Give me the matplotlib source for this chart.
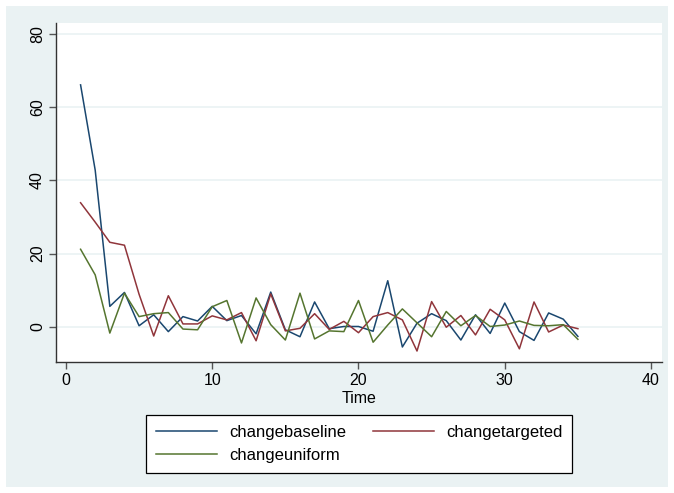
import matplotlib.pyplot as plt
from matplotlib.patches import Rectangle

# time index and the three series
time = list(range(1, 36))
changebaseline = [66.1, 42.8, 5.6, 9.4, 0.3, 3.3, -1.3, 2.8, 1.6, 5.6,
                  1.7, 3.1, -1.9, 9.5, -0.8, -2.7, 6.8, -0.5, 0.1, 0.1,
                  -1.2, 12.6, -5.5, 1.0, 3.6, 1.7, -3.6, 3.3, -1.8, 6.5,
                  -1.3, -3.7, 3.8, 2.1, -2.6]
changetargeted = [33.9, 28.6, 23.1, 22.3, 8.9, -2.5, 8.5, 0.8, 0.8, 3.0,
                  1.9, 3.9, -3.8, 9.0, -1.1, -0.4, 3.6, -0.7, 1.5, -1.6,
                  2.8, 3.9, 1.9, -6.6, 6.9, -0.1, 3.1, -2.2, 4.8, 1.9,
                  -6.0, 6.8, -1.4, 0.5, -0.5]
changeuniform = [21.2, 14.2, -1.7, 9.2, 2.8, 3.6, 3.9, -0.6, -0.8, 5.5,
                 7.2, -4.4, 7.9, 0.6, -3.6, 9.2, -3.3, -1.1, -1.3, 7.2,
                 -4.2, 0.5, 4.9, 1.1, -2.7, 4.2, 0.3, 3.1, 0.1, 0.5,
                 1.6, 0.4, 0.3, 0.6, -3.4]
xticks = [0, 10, 20, 30, 40]
yticks = [0, 20, 40, 60, 80]

bg = '#EAF2F3'
plt.rcParams['font.family'] = ['Liberation Sans', 'DejaVu Sans']

W, H = 674, 493
fig = plt.figure(figsize=(W / 100, H / 100), dpi=100, facecolor='white')
# stata-like light panel behind everything
fig.patches.append(Rectangle((6 / W, 6 / H), 662 / W, 481 / H, transform=fig.transFigure,
                             facecolor=bg, edgecolor='none', zorder=-10))

ax = fig.add_axes([56 / W, 1 - 362 / H, 606 / W, 339 / H])
ax.set_facecolor('white')
l1, = ax.plot(time, changebaseline, color='#1A476F', lw=1.1, label='changebaseline')
l2, = ax.plot(time, changetargeted, color='#90353B', lw=1.1, label='changetargeted')
l3, = ax.plot(time, changeuniform, color='#55752F', lw=1.1, label='changeuniform')

ax.set_xlim(-0.68, 40.75)
ax.set_ylim(-9.6, 83)
ax.set_xticks(xticks)
ax.set_yticks(yticks)
ax.yaxis.grid(True, color=bg, lw=1.2)
ax.set_axisbelow(True)
for s in ['top', 'right']:
    ax.spines[s].set_visible(False)
for s in ['left', 'bottom']:
    ax.spines[s].set_color('#333333')
    ax.spines[s].set_linewidth(1.0)
ax.tick_params(length=5, width=1, color='#555555', labelsize=11.5, pad=3)
plt.setp(ax.get_yticklabels(), rotation=90, va='center')
ax.set_xlabel('Time', fontsize=11.5, labelpad=2)

leg = fig.legend([l1, l3, l2], ['changebaseline', 'changeuniform', 'changetargeted'],
                 ncol=2, loc='center', bbox_to_anchor=(359 / W, 1 - 444 / H),
                 fontsize=12, frameon=True, fancybox=False, handlelength=3.7,
                 handletextpad=0.7, columnspacing=1.6, labelspacing=0.45,
                 borderpad=0.6, borderaxespad=0)
leg.get_frame().set_edgecolor('black')
leg.get_frame().set_linewidth(0.9)
leg.get_frame().set_alpha(1)

fig.savefig('out.png', dpi=100, facecolor='white')
